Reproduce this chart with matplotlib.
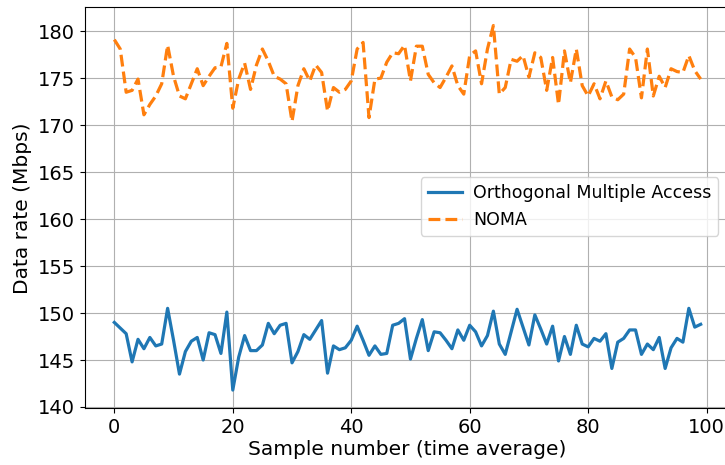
import numpy as np
import matplotlib.pyplot as plt

samples = np.arange(100)

oma = [149.0, 148.4, 147.8, 144.8, 147.2, 146.2, 147.4, 146.5, 146.7, 150.5,
       147.1, 143.5, 145.9, 147.0, 147.4, 145.0, 147.9, 147.7, 145.7, 150.1,
       141.8, 145.3, 147.6, 146.0, 146.0, 146.6, 148.9, 147.8, 148.7, 148.9,
       144.7, 145.9, 147.7, 147.2, 148.2, 149.2, 143.6, 146.5, 146.1, 146.3,
       147.1, 148.6, 147.1, 145.5, 146.5, 145.6, 145.7, 148.7, 148.9, 149.4,
       145.1, 147.3, 149.3, 146.0, 148.0, 147.9, 147.1, 146.2, 148.2, 147.1,
       148.7, 148.0, 146.5, 147.6, 150.2, 146.7, 145.6, 148.0, 150.4, 148.5,
       146.6, 149.8, 148.3, 146.7, 148.6, 144.9, 147.5, 145.6, 148.7, 146.7,
       146.4, 147.3, 147.0, 147.8, 144.1, 146.9, 147.3, 148.2, 148.2, 145.6,
       146.7, 146.1, 147.4, 144.1, 146.3, 147.3, 146.9, 150.5, 148.5, 148.8]

noma = [179.1, 178.1, 173.5, 173.7, 174.9, 171.1, 172.2, 173.1, 174.4, 178.5,
        175.2, 173.1, 172.8, 174.4, 176.0, 174.2, 175.2, 176.1, 176.2, 178.7,
        171.8, 174.9, 176.6, 173.8, 176.4, 178.1, 176.8, 175.2, 174.9, 174.4,
        170.4, 174.2, 176.0, 174.7, 176.4, 175.6, 171.5, 174.0, 173.5, 173.8,
        174.7, 178.1, 178.8, 170.8, 174.9, 175.0, 176.7, 177.7, 177.6, 178.5,
        174.7, 178.4, 178.4, 175.4, 174.5, 174.0, 175.1, 176.3, 174.2, 173.3,
        177.4, 177.9, 174.4, 178.1, 180.6, 173.3, 174.0, 177.0, 176.8, 177.4,
        175.1, 177.7, 177.2, 173.7, 177.2, 172.2, 177.9, 174.5, 178.1, 174.2,
        173.1, 174.4, 172.8, 174.7, 173.0, 172.7, 173.3, 178.1, 177.2, 172.9,
        178.1, 173.1, 175.2, 174.0, 176.0, 175.7, 175.6, 177.4, 175.8, 174.9]

plt.rcParams['font.size'] = 14.5

fig = plt.figure(figsize=(7.25, 4.65), dpi=100)
ax = fig.add_axes([85/725, 56.7/465, 645/725, 401/465])

ax.plot(samples, oma, color='#1f77b4', lw=2.3, label='Orthogonal Multiple Access')
ax.plot(samples, noma, color='#ff7f0e', lw=2.3, ls='--', label='NOMA')

ax.tick_params(labelsize=14)
ax.set_xlabel('Sample number (time average)', labelpad=2)
ax.set_ylabel('Data rate (Mbps)')
ax.grid(True)
ax.legend(loc='center right', bbox_to_anchor=(0.995, 0.503), fontsize=12.5,
          handletextpad=0.6)

fig.savefig('out.png', dpi=100)
